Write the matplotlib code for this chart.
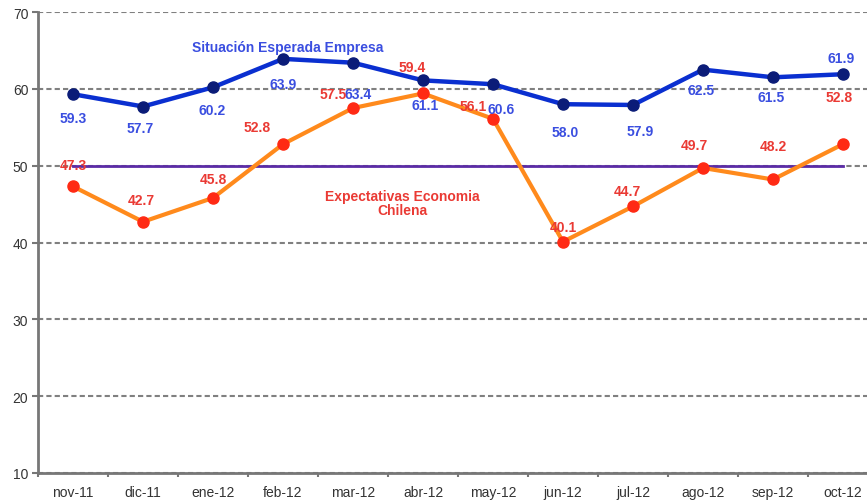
import numpy as np
import matplotlib.pyplot as plt

plt.rcParams['font.family'] = ['Liberation Sans', 'DejaVu Sans']

meses = ['nov-11', 'dic-11', 'ene-12', 'feb-12', 'mar-12', 'abr-12',
         'may-12', 'jun-12', 'jul-12', 'ago-12', 'sep-12', 'oct-12']
empresa = [59.3, 57.7, 60.2, 63.9, 63.4, 61.1, 60.6, 58.0, 57.9, 62.5, 61.5, 61.9]
economia = [47.3, 42.7, 45.8, 52.8, 57.5, 59.4, 56.1, 40.1, 44.7, 49.7, 48.2, 52.8]
referencia = 50

# label offsets in pixels (dx, dy)
off_emp = [(0, -24), (-3, -21), (-1, -23), (0, -25), (5, -31), (2, -25),
           (8, -25), (2, -28), (7, -26), (-2, -20), (-2, -20), (-2, 16)]
off_eco = [(0, 21), (-2, 22), (0, 19), (-26, 17), (-20, 14), (-11, 26),
           (-20, 13), (0, 15), (-6, 15), (-9, 23), (0, 33), (-4, 47)]

W, H = 867, 502
fig = plt.figure(figsize=(W / 100, H / 100), dpi=100)
ax = fig.add_axes([38 / W, 28 / H, 840 / W, 461 / H])

x = np.arange(len(meses))

for yv in range(10, 80, 10):
    ax.axhline(yv, color='#808080', lw=1.5, ls=(0, (2.5, 1.5)), zorder=1)

ax.plot([x[0], x[-1]], [referencia, referencia], color='#5b2ca6', lw=2, zorder=2)

ax.plot(x, economia, color='#ff8a1c', lw=3, marker='o', ms=8,
        mfc='#ff2a14', mec='#ff2a14', zorder=3)
ax.plot(x, empresa, color='#0a2fd0', lw=3.2, marker='o', ms=8,
        mfc='#0b1c78', mec='#0b1c78', zorder=4)

for i in range(len(meses)):
    ax.annotate(f'{empresa[i]:.1f}', (x[i], empresa[i]), xytext=off_emp[i],
                textcoords='offset pixels', ha='center', va='center',
                color='#3a4ee0', fontsize=10, fontweight='bold', zorder=5)
    ax.annotate(f'{economia[i]:.1f}', (x[i], economia[i]), xytext=off_eco[i],
                textcoords='offset pixels', ha='center', va='center',
                color='#ea3a34', fontsize=10, fontweight='bold', zorder=5)

ax.text(3.07, 65.5, 'Situación Esperada Empresa', color='#3a4ee0',
        fontsize=10, fontweight='bold', ha='center', va='center')
ax.text(4.7, 45.2, 'Expectativas Economia\nChilena', color='#ea3a34',
        fontsize=10, fontweight='bold', ha='center', va='center', linespacing=1.0)

ax.set_xlim(-0.5, 11.5)
ax.set_ylim(10, 70)
ax.set_yticks(range(10, 80, 10))
ax.set_xticks(x)
ax.set_xticklabels(meses)
ax.set_xticks(np.arange(-0.5, 11.6, 1), minor=True)
ax.tick_params(axis='x', which='major', length=0, pad=9, labelsize=10, labelcolor='#333333')
ax.tick_params(axis='x', which='minor', length=3, width=1.5, color='#777777')
ax.tick_params(axis='y', length=4, width=1.5, color='#777777', labelsize=10,
               labelcolor='#333333', pad=3)

for s in ['top', 'right']:
    ax.spines[s].set_visible(False)
for s in ['left', 'bottom']:
    ax.spines[s].set_color('#777777')
    ax.spines[s].set_linewidth(2)

fig.savefig('out.png', dpi=100)
